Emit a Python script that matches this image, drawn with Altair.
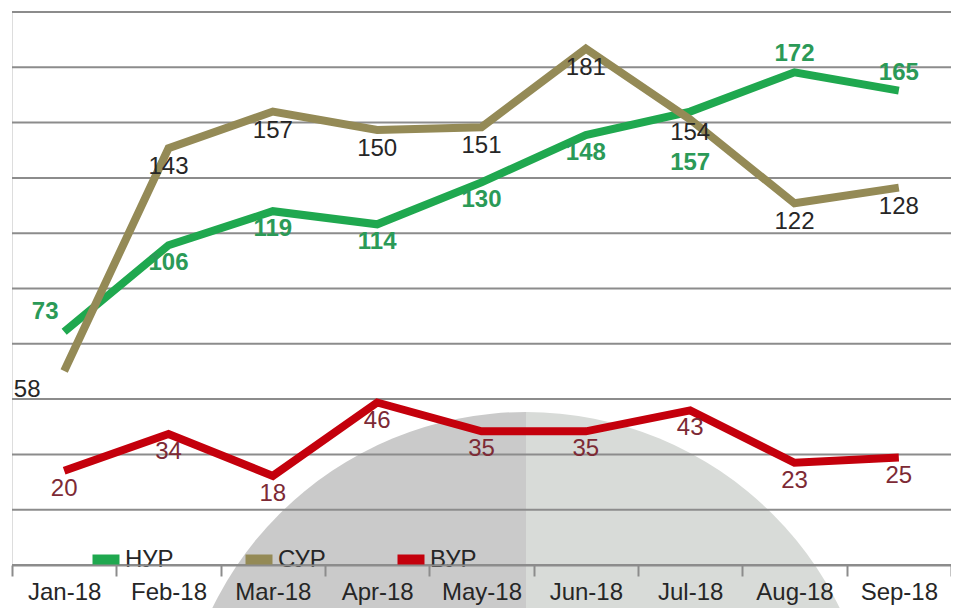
import math
import altair as alt
import pandas as pd

months = ["Jan-18", "Feb-18", "Mar-18", "Apr-18", "May-18", "Jun-18", "Jul-18", "Aug-18", "Sep-18"]
nur = [73, 106, 119, 114, 130, 148, 157, 172, 165]
sur = [58, 143, 157, 150, 151, 181, 154, 122, 128]
vur = [20, 34, 18, 46, 35, 35, 43, 23, 25]
series_names = ["НУР", "СУР", "ВУР"]
series_colors = ["#1fa84f", "#948a56", "#c4000c"]
label_colors = ["#2b9a57", "#262626", "#7d2a35"]

Y_MIN, Y_MAX = -16, 195
grid_values = [Y_MIN + k * (Y_MAX - Y_MIN) / 10 for k in range(11)]

rows = []
for name, vals in zip(series_names, [nur, sur, vur]):
    for m, v in zip(months, vals):
        rows.append({"series": name, "month": m, "value": v})
df = pd.DataFrame(rows)
grid_df = pd.DataFrame({"g": grid_values})
logo_df = pd.DataFrame({"shape": ["logo"]})

FONT = "Liberation Sans"

yscale = alt.Scale(domain=[Y_MIN, Y_MAX], nice=False, zero=False)
xscale = alt.Scale(domain=months, paddingInner=0, paddingOuter=0)
color_scale = alt.Scale(domain=series_names, range=series_colors)

x_enc = alt.X("month:N", sort=months, scale=xscale, bandPosition=0.5,
              axis=alt.Axis(title=None, labelAngle=0, tickBand="extent",
                            labelFontSize=24, labelColor="#262626", labelFont=FONT,
                            tickColor="#8c8c8c", tickWidth=2, tickSize=11,
                            domainColor="#8c8c8c", domainWidth=2, labelPadding=4,
                            grid=False, zindex=1))
y_enc = alt.Y("value:Q", scale=yscale, axis=None)

legend = alt.Legend(orient="none", legendX=75, legendY=529, direction="horizontal",
                    title=None, symbolType="stroke", symbolStrokeWidth=11,
                    symbolSize=729, labelFontSize=24, labelOffset=0,
                    columnPadding=49, labelColor="#262626", labelFont=FONT,
                    padding=0)

# background watermark (two half discs)
logo_left = alt.Chart(logo_df).mark_arc(radius=349, theta=math.pi, theta2=2 * math.pi,
                                        fill="#cacaca").encode(
    x=alt.value(514), y=alt.value(749))
logo_right = alt.Chart(logo_df).mark_arc(radius=349, theta=0, theta2=math.pi,
                                         fill="#d8dbd8").encode(
    x=alt.value(514), y=alt.value(749))

grid = alt.Chart(grid_df).mark_rule(color="#8c8c8c", strokeWidth=2).encode(
    y=alt.Y("g:Q", scale=yscale, axis=None))

layers = [logo_left, logo_right, grid]

for name in series_names:
    base = alt.Chart(df).transform_filter(alt.datum.series == name)
    layers.append(base.mark_line(strokeWidth=8, strokeJoin="miter").encode(
        x=x_enc, y=y_enc,
        color=alt.Color("series:N", scale=color_scale, legend=legend)))


def labels(name, color, weight, month_filter, dx, dy):
    return alt.Chart(df).transform_filter(alt.datum.series == name).transform_filter(
        month_filter).mark_text(fontSize=24, font=FONT, color=color, fontWeight=weight,
                                baseline="middle", dx=dx, dy=dy).encode(
        x=x_enc, y=y_enc, text="value:Q")


def month_is(*ms):
    return alt.FieldOneOfPredicate(field="month", oneOf=list(ms))


def month_not(*ms):
    return {"not": alt.FieldOneOfPredicate(field="month", oneOf=list(ms))}


# НУР labels
layers.append(labels("НУР", label_colors[0], "bold", month_is("Aug-18", "Sep-18"), 0, -18))
layers.append(labels("НУР", label_colors[0], "bold", month_is("Jan-18"), -19, -20))
layers.append(labels("НУР", label_colors[0], "bold", month_is("Jul-18"), 0, 51))
layers.append(labels("НУР", label_colors[0], "bold",
                     month_not("Aug-18", "Sep-18", "Jan-18", "Jul-18"), 0, 18))
# СУР labels
layers.append(labels("СУР", label_colors[1], "normal", month_is("Jan-18"), -37, 19))
layers.append(labels("СУР", label_colors[1], "normal", month_is("Jul-18"), 0, 14))
layers.append(labels("СУР", label_colors[1], "normal", month_not("Jan-18", "Jul-18"), 0, 19))
# ВУР labels
layers.append(labels("ВУР", label_colors[2], "normal", month_not(), 0, 18))

chart = alt.layer(*layers).properties(
    width=939, height=553,
    padding={"left": 4, "top": 4, "right": 0, "bottom": 43},
    autosize=alt.AutoSizeParams(type="none"),
).configure_view(stroke=None).configure(background="white")

chart.save("out.html", embed_options={"renderer": "svg", "actions": False})
